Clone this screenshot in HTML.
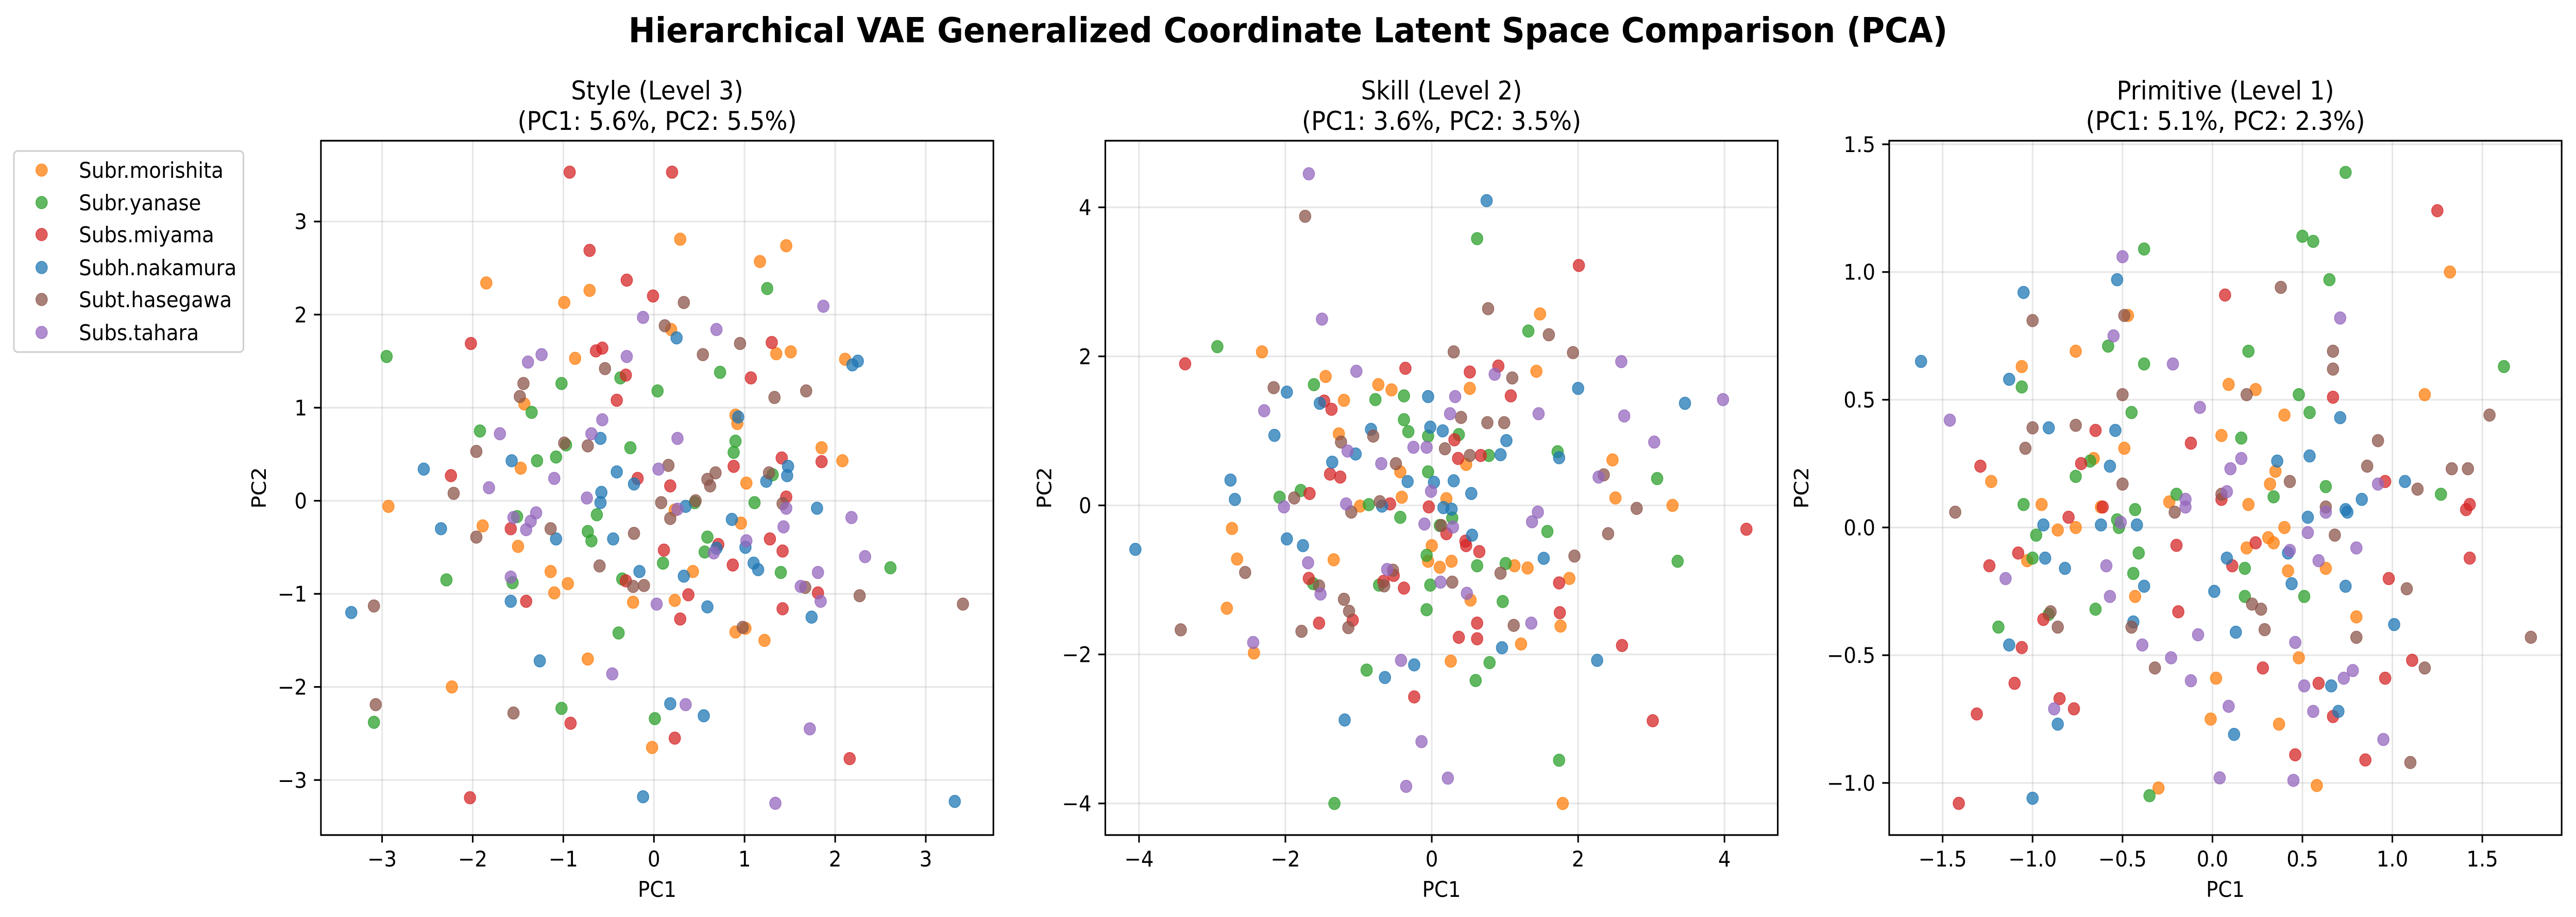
<!DOCTYPE html>
<html><head><meta charset="utf-8">
<style>
html,body{margin:0;padding:0;background:#fff;overflow:hidden;width:100%;height:100%;}
svg{display:block;font-family:"DejaVu Sans","Liberation Sans",sans-serif;position:absolute;left:0;top:0;width:100vw;height:100vh;white-space:nowrap;}
</style></head>
<body>
<svg id="chart" viewBox="0 0 5386 1779" preserveAspectRatio="none" xmlns="http://www.w3.org/2000/svg">
<rect width="5386" height="1779" fill="#fff"/>
<text x="2693" y="82" text-anchor="middle" font-size="67" font-weight="bold">Hierarchical VAE Generalized Coordinate Latent Space Comparison (PCA)</text>
<g id="legend"></g>
</svg>
<script>
const classNames = ["Subr.morishita","Subr.yanase","Subs.miyama","Subh.nakamura","Subt.hasegawa","Subs.tahara"];
const classColors = ["#ff7f0e","#2ca02c","#d62728","#1f77b4","#8c564b","#9467bd"];
const panelTitles = ["Style (Level 3)","Skill (Level 2)","Primitive (Level 1)"];
const panelSubtitles = ["(PC1: 5.6%, PC2: 5.5%)","(PC1: 3.6%, PC2: 3.5%)","(PC1: 5.1%, PC2: 2.3%)"];
const xTicks = [[-3,-2,-1,0,1,2,3],[-4,-2,0,2,4],[-1.5,-1,-0.5,0,0.5,1,1.5]];
const yTicks = [[-3,-2,-1,0,1,2,3],[-4,-2,0,2,4],[-1,-0.5,0,0.5,1,1.5]];
const xTickLabels = [["−3","−2","−1","0","1","2","3"],["−4","−2","0","2","4"],["−1.5","−1.0","−0.5","0.0","0.5","1.0","1.5"]];
const yTickLabels = [["−3","−2","−1","0","1","2","3"],["−4","−2","0","2","4"],["−1.0","−0.5","0.0","0.5","1.0","1.5"]];
const xLimits = [[-3.675,3.746],[-4.461,4.728],[-1.797,1.941]];
const yLimits = [[-3.591,3.868],[-4.424,4.894],[-1.204,1.514]];

const styleMorishita=[[0.29,2.81],[1.46,2.74],[1.17,2.57],[-1.85,2.34],[-0.71,2.26],[-0.99,2.13],[0.19,1.84],[-0.87,1.53],[1.35,1.58],[1.51,1.60],[2.11,1.52],[-1.43,1.04],[0.90,0.92],[0.92,0.83],[1.85,0.57],[2.08,0.43],[-1.47,0.35],[1.02,0.19],[-2.93,-0.06],[-1.89,-0.27],[0.96,-0.24],[0.23,-0.10],[-1.50,-0.49],[0.43,-0.76],[-1.14,-0.76],[-0.95,-0.89],[-1.10,-0.99],[-0.23,-1.09],[0.23,-1.07],[0.90,-1.41],[1.01,-1.37],[1.22,-1.50],[-0.73,-1.70],[-2.23,-2.00],[-0.02,-2.65]];
const styleYanase=[[1.25,2.28],[-2.95,1.55],[0.73,1.38],[-0.37,1.32],[-1.02,1.26],[0.04,1.18],[-1.35,0.95],[-1.92,0.75],[-0.26,0.57],[0.90,0.64],[0.88,0.52],[-1.08,0.47],[-1.29,0.43],[-0.97,0.60],[1.11,-0.02],[0.45,-0.02],[-1.51,-0.17],[-0.63,-0.15],[-0.73,-0.33],[-0.69,-0.43],[0.59,-0.39],[0.56,-0.55],[0.10,-0.67],[1.31,0.28],[1.40,-0.77],[2.61,-0.72],[-2.29,-0.85],[-1.56,-0.88],[-0.35,-0.84],[-0.39,-1.42],[-1.02,-2.23],[0.01,-2.34],[-3.09,-2.38]];
const styleMiyama=[[-0.93,3.53],[0.20,3.53],[-0.71,2.69],[-0.30,2.37],[-0.01,2.20],[-2.02,1.69],[-0.57,1.64],[-0.64,1.61],[-0.31,1.35],[1.30,1.70],[1.07,1.32],[-0.41,1.08],[-2.24,0.27],[-0.18,0.24],[0.18,0.16],[0.88,0.37],[1.41,0.46],[1.85,0.42],[1.46,0.04],[-1.58,-0.30],[1.28,-0.41],[0.11,-0.53],[0.71,-0.47],[1.42,-0.54],[0.87,-0.69],[-0.31,-0.86],[0.38,-1.01],[1.81,-0.99],[-1.41,-1.08],[1.42,-1.16],[0.29,-1.27],[-0.92,-2.39],[0.23,-2.55],[2.16,-2.77],[-2.03,-3.19]];
const styleNakamura=[[0.25,1.75],[2.19,1.46],[2.25,1.50],[0.93,0.90],[-0.59,0.67],[-1.57,0.43],[-2.54,0.34],[-0.41,0.31],[1.48,0.37],[1.47,0.27],[1.24,0.21],[-0.22,0.18],[-0.58,0.09],[-0.59,-0.02],[0.35,-0.06],[1.80,-0.08],[0.86,-0.20],[-2.35,-0.30],[-1.08,-0.41],[-0.45,-0.41],[1.01,-0.50],[0.69,-0.51],[1.10,-0.67],[1.15,-0.74],[-0.16,-0.76],[0.33,-0.81],[-1.58,-1.08],[0.59,-1.14],[-3.34,-1.20],[1.74,-1.25],[-1.26,-1.72],[0.18,-2.18],[0.55,-2.31],[-0.12,-3.18],[3.32,-3.23]];
const styleHasegawa=[[0.33,2.13],[0.12,1.88],[0.95,1.69],[0.54,1.57],[-0.54,1.42],[-1.44,1.26],[-1.48,1.12],[1.33,1.11],[1.68,1.18],[-0.99,0.62],[-0.73,0.59],[-1.96,0.53],[0.16,0.38],[0.68,0.30],[0.59,0.23],[0.62,0.16],[1.27,0.30],[-2.21,0.08],[0.08,-0.02],[0.46,0.00],[1.42,-0.03],[0.18,-0.19],[-1.14,-0.30],[-0.22,-0.35],[-1.96,-0.39],[-0.60,-0.70],[-0.23,-0.92],[-0.11,-0.91],[1.67,-0.93],[2.27,-1.02],[3.41,-1.11],[-3.09,-1.13],[0.98,-1.36],[-3.07,-2.19],[-1.55,-2.28]];
const styleTahara=[[1.87,2.09],[-0.12,1.97],[0.69,1.84],[-1.24,1.57],[-1.39,1.49],[-0.30,1.55],[-0.57,0.87],[-1.70,0.72],[-0.69,0.72],[0.26,0.67],[0.05,0.34],[-1.10,0.24],[-1.82,0.14],[-0.74,0.03],[1.46,-0.08],[0.26,-0.09],[-1.30,-0.13],[-1.55,-0.18],[-1.36,-0.22],[2.18,-0.18],[1.43,-0.28],[-1.41,-0.31],[1.02,-0.43],[0.66,-0.56],[2.33,-0.60],[1.81,-0.77],[-1.58,-0.82],[1.62,-0.92],[1.84,-1.08],[0.03,-1.11],[-0.46,-1.86],[0.35,-2.19],[1.72,-2.45],[1.34,-3.25]];

const skillMorishita=[[1.48,2.57],[-2.32,2.06],[1.43,1.80],[-1.45,1.73],[-0.73,1.62],[-0.55,1.55],[0.52,1.57],[-1.20,1.41],[-1.27,0.96],[2.47,0.61],[-0.43,0.45],[0.47,0.55],[-0.41,0.11],[2.51,0.10],[-0.98,-0.01],[0.20,0.09],[3.29,0.00],[-2.73,-0.31],[0.00,-0.54],[-2.66,-0.72],[-1.34,-0.73],[-0.05,-0.75],[0.11,-0.83],[0.27,-0.75],[0.53,-1.27],[1.13,-0.81],[1.31,-0.84],[1.88,-0.98],[-2.80,-1.38],[1.76,-1.62],[1.22,-1.86],[-2.43,-1.98],[0.26,-2.09],[1.79,-4.00]];
const skillYanase=[[0.62,3.58],[1.32,2.34],[-2.93,2.13],[-1.61,1.62],[-0.77,1.42],[-0.38,1.47],[-0.38,1.15],[-0.32,0.99],[-0.05,0.93],[0.37,0.95],[1.72,0.72],[0.78,0.67],[-0.05,0.45],[3.08,0.36],[-1.79,0.20],[-2.08,0.11],[-0.86,0.01],[-0.43,-0.16],[0.28,-0.17],[0.11,-0.27],[1.58,-0.35],[-0.07,-0.67],[0.62,-0.81],[1.01,-0.78],[3.36,-0.75],[-1.62,-1.05],[-0.72,-1.07],[-0.02,-1.07],[0.97,-1.29],[-0.07,-1.40],[-0.89,-2.21],[0.79,-2.11],[0.60,-2.35],[1.74,-3.42],[-1.33,-4.00]];
const skillMiyama=[[2.01,3.22],[-3.37,1.90],[-0.36,1.84],[0.52,1.79],[0.91,1.87],[1.08,1.47],[-1.47,1.40],[-1.37,1.29],[0.31,0.88],[0.36,0.63],[0.67,0.67],[-1.39,0.42],[-1.25,0.38],[-1.67,0.16],[-0.57,0.02],[-0.04,-0.02],[0.20,-0.38],[0.46,-0.48],[0.47,-0.54],[0.65,-0.62],[4.30,-0.32],[-1.68,-0.98],[-0.52,-0.94],[-0.66,-1.02],[-0.38,-1.11],[1.74,-1.04],[1.75,-1.44],[-1.08,-1.54],[-1.54,-1.58],[0.62,-1.58],[0.37,-1.77],[0.62,-1.79],[2.60,-1.88],[-0.24,-2.57],[3.02,-2.89]];
const skillNakamura=[[0.75,4.09],[3.46,1.37],[2.00,1.57],[-1.98,1.52],[-1.53,1.37],[-0.05,1.46],[-2.15,0.94],[-0.83,1.02],[-0.02,1.05],[0.15,1.00],[1.02,0.87],[0.94,0.68],[1.74,0.64],[-1.04,0.69],[-1.36,0.58],[-2.75,0.34],[-2.69,0.08],[-0.33,0.32],[0.03,0.31],[0.30,0.33],[0.54,0.16],[-0.68,-0.01],[0.16,-0.03],[0.27,-0.05],[-4.05,-0.59],[-1.98,-0.45],[-1.76,-0.54],[0.55,-0.40],[1.53,-0.71],[0.96,-1.91],[2.26,-2.08],[-0.24,-2.14],[-0.64,-2.31],[-1.19,-2.88]];
const skillHasegawa=[[-1.73,3.88],[0.77,2.64],[1.60,2.29],[0.30,2.06],[1.93,2.05],[-2.16,1.58],[1.10,1.71],[0.40,1.18],[0.76,1.11],[0.99,1.11],[-0.80,0.93],[-1.24,0.85],[0.18,0.76],[0.52,0.67],[-0.49,0.56],[2.35,0.41],[-1.88,0.10],[-0.71,0.05],[2.80,-0.04],[-1.10,-0.09],[0.13,-0.27],[2.41,-0.38],[1.95,-0.68],[-2.55,-0.90],[-0.53,-0.87],[-0.65,-1.08],[-1.54,-1.08],[0.28,-1.03],[0.94,-0.91],[-1.20,-1.26],[-1.13,-1.42],[-1.14,-1.64],[1.12,-1.61],[-3.43,-1.67],[-1.78,-1.69]];
const skillTahara=[[-1.68,4.45],[-1.50,2.50],[2.59,1.93],[-1.03,1.80],[0.86,1.76],[0.32,1.46],[3.98,1.42],[-2.29,1.27],[0.25,1.23],[1.46,1.23],[2.63,1.20],[3.04,0.85],[-1.15,0.73],[-0.25,0.78],[-0.07,0.78],[-0.69,0.56],[2.28,0.38],[-0.01,0.19],[-1.17,0.02],[-2.02,-0.02],[1.45,-0.09],[1.37,-0.22],[-0.10,-0.25],[0.29,-0.29],[-1.69,-0.77],[-0.61,-0.86],[0.12,-1.03],[-1.52,-1.19],[0.48,-1.18],[1.36,-1.58],[-2.44,-1.84],[-0.42,-2.08],[-0.14,-3.17],[0.22,-3.66],[-0.35,-3.77]];

const primMorishita=[[1.32,1.00],[-0.47,0.83],[-0.76,0.69],[-1.06,0.63],[0.09,0.56],[0.24,0.54],[1.18,0.52],[0.40,0.44],[-0.49,0.31],[0.05,0.36],[-1.23,0.18],[-0.66,0.27],[0.35,0.22],[0.32,0.17],[-0.24,0.10],[0.20,0.09],[-0.95,0.09],[-0.62,0.08],[-0.76,0.00],[-0.86,-0.01],[0.40,0.00],[0.31,-0.04],[0.34,-0.06],[0.19,-0.08],[-1.03,-0.13],[0.42,-0.17],[0.63,-0.16],[-0.43,-0.27],[0.80,-0.35],[0.48,-0.51],[0.02,-0.59],[-0.01,-0.75],[0.37,-0.77],[-0.30,-1.02],[0.58,-1.01]];
const primYanase=[[0.74,1.39],[0.50,1.14],[0.56,1.12],[-0.38,1.09],[0.65,0.97],[-0.58,0.71],[0.20,0.69],[-0.38,0.64],[1.62,0.63],[-1.06,0.55],[0.48,0.52],[0.54,0.45],[-0.45,0.45],[0.16,0.35],[-0.68,0.26],[-0.76,0.20],[0.63,0.16],[1.27,0.13],[-0.20,0.13],[0.34,0.12],[-1.05,0.09],[-0.43,0.07],[-0.53,0.03],[-0.52,0.00],[-0.98,-0.03],[-0.41,-0.10],[-1.00,-0.12],[0.18,-0.16],[-0.44,-0.18],[0.18,-0.27],[0.51,-0.27],[-0.65,-0.32],[-0.91,-0.34],[-1.19,-0.39],[-0.35,-1.05]];
const primMiyama=[[1.25,1.24],[0.07,0.91],[0.67,0.51],[-0.12,0.33],[-0.65,0.38],[-0.73,0.25],[-1.29,0.24],[0.96,0.18],[-0.61,0.08],[0.05,0.11],[1.43,0.09],[1.41,0.07],[-0.80,0.04],[-0.20,-0.07],[0.24,-0.06],[-1.08,-0.10],[0.11,-0.15],[-1.24,-0.15],[1.43,-0.12],[0.98,-0.20],[-0.19,-0.33],[-0.94,-0.36],[-1.06,-0.47],[1.11,-0.52],[0.28,-0.55],[0.96,-0.59],[0.59,-0.61],[-1.10,-0.61],[-0.85,-0.67],[-0.77,-0.71],[-1.31,-0.73],[0.67,-0.74],[0.46,-0.89],[0.85,-0.91],[-1.41,-1.08]];
const primNakamura=[[-1.62,0.65],[-0.53,0.97],[-1.05,0.92],[-1.13,0.58],[-0.91,0.39],[-0.54,0.38],[0.71,0.43],[-0.57,0.24],[0.36,0.26],[0.54,0.28],[1.07,0.18],[0.83,0.11],[0.74,0.07],[0.75,0.06],[0.53,0.04],[-0.94,0.01],[-0.62,0.01],[-0.42,0.01],[-0.93,-0.12],[0.08,-0.12],[0.42,-0.10],[-0.82,-0.16],[0.44,-0.22],[-0.38,-0.23],[0.74,-0.23],[0.01,-0.25],[1.01,-0.38],[-0.44,-0.37],[0.13,-0.41],[-1.13,-0.46],[0.66,-0.62],[0.70,-0.72],[-0.86,-0.77],[0.12,-0.81],[-1.00,-1.06]];
const primHasegawa=[[0.38,0.94],[-1.00,0.81],[-0.49,0.83],[0.67,0.69],[0.67,0.62],[-0.50,0.52],[0.19,0.52],[1.54,0.44],[-0.76,0.40],[-1.00,0.39],[-1.04,0.31],[0.92,0.34],[0.86,0.24],[1.33,0.23],[1.42,0.23],[0.43,0.18],[-0.50,0.17],[1.14,0.15],[0.05,0.13],[0.63,0.08],[-0.21,0.06],[-1.43,0.06],[0.68,-0.03],[1.08,-0.24],[0.22,-0.30],[0.27,-0.32],[-0.90,-0.33],[-0.45,-0.39],[-0.86,-0.39],[0.29,-0.40],[0.80,-0.43],[1.77,-0.43],[-0.32,-0.55],[1.18,-0.55],[1.10,-0.92]];
const primTahara=[[-0.50,1.06],[0.71,0.82],[-0.55,0.75],[-0.22,0.64],[-0.07,0.47],[-1.46,0.42],[0.16,0.27],[0.10,0.23],[0.92,0.17],[0.08,0.14],[-0.15,0.11],[-0.15,0.08],[0.63,0.06],[-0.51,0.02],[0.53,-0.02],[0.80,-0.08],[0.43,-0.09],[0.59,-0.13],[-0.59,-0.15],[-1.15,-0.20],[-0.57,-0.27],[-0.08,-0.42],[-0.39,-0.46],[0.46,-0.45],[-0.23,-0.51],[0.78,-0.56],[0.73,-0.59],[-0.12,-0.60],[0.51,-0.62],[0.09,-0.70],[-0.88,-0.71],[0.56,-0.72],[0.95,-0.83],[0.04,-0.98],[0.45,-0.99]];

const panelData = [
  [styleMorishita,styleYanase,styleMiyama,styleNakamura,styleHasegawa,styleTahara],
  [skillMorishita,skillYanase,skillMiyama,skillNakamura,skillHasegawa,skillTahara],
  [primMorishita,primYanase,primMiyama,primNakamura,primHasegawa,primTahara]
];

const NS = "http://www.w3.org/2000/svg";
const svg = document.getElementById("chart");
function mk(tag, attrs, parent){
  const e = document.createElementNS(NS, tag);
  for (const k in attrs) e.setAttribute(k, attrs[k]);
  parent.appendChild(e);
  return e;
}
const panelLeft = [671, 2311, 3950];
const AW = 1406, AT = 273, AH = 1347;
const panelKeys = ["style","skill","primitive"];

for (let p = 0; p < 3; p++) {
  const L = panelLeft[p];
  const [x0,x1] = xLimits[p], [y0,y1] = yLimits[p];
  const sx = v => L + (v - x0) / (x1 - x0) * AW;
  const sy = v => AT + AH - (v - y0) / (y1 - y0) * AH;
  const g = mk("g", {}, svg);
  
  

  xTicks[p].forEach(t => {
    const l = mk("line", {x1:sx(t), x2:sx(t), y1:AT, y2:AT+AH, stroke:"#b0b0b0", "stroke-opacity":0.3, "stroke-width":3.3}, g);
    
    
  });
  yTicks[p].forEach(t => {
    const l = mk("line", {x1:L, x2:L+AW, y1:sy(t), y2:sy(t), stroke:"#b0b0b0", "stroke-opacity":0.3, "stroke-width":3.3}, g);
    
    
  });

  panelData[p].forEach((pts, ci) => {
    const sg = mk("g", {fill: classColors[ci], "fill-opacity": 0.75, stroke: classColors[ci], "stroke-opacity":0.75, "stroke-width":1.5}, g);
    
    
    pts.forEach(pt => {
      const c = mk("circle", {cx: sx(pt[0]), cy: sy(pt[1]), r: 12}, sg);
      
      
    });
  });

  const fr = mk("rect", {x:L, y:AT, width:AW, height:AH, fill:"none", stroke:"#000", "stroke-width":3.3}, g);
  
  

  xTicks[p].forEach((t, i) => {
    const tk = mk("line", {x1:sx(t), x2:sx(t), y1:AT+AH, y2:AT+AH+14.6, stroke:"#000", "stroke-width":3.3}, g);
    
    
    const tx = mk("text", {x:sx(t), y:AT+AH+61, "text-anchor":"middle", "font-size":41.7}, g);
    tx.textContent = xTickLabels[p][i];
    
    
  });
  yTicks[p].forEach((t, i) => {
    const tk = mk("line", {x1:L-14.6, x2:L, y1:sy(t), y2:sy(t), stroke:"#000", "stroke-width":3.3}, g);
    
    
    const tx = mk("text", {x:L-29, y:sy(t)+15, "text-anchor":"end", "font-size":41.7}, g);
    tx.textContent = yTickLabels[p][i];
    
    
  });

  const xl = mk("text", {x:L+AW/2, y:1740, "text-anchor":"middle", "font-size":41.7}, g);
  xl.textContent = "PC1";
  
  
  const ylx = [556, 2198, 3781][p];
  const yl = mk("text", {x:ylx, y:AT+AH/2, "text-anchor":"middle", "font-size":41.7, transform:`rotate(-90 ${ylx} ${AT+AH/2})`}, g);
  yl.textContent = "PC2";
  
  

  const t1 = mk("text", {x:L+AW/2, y:193, "text-anchor":"middle", "font-size":50}, g);
  t1.textContent = panelTitles[p];
  
  
  const t2 = mk("text", {x:L+AW/2, y:252, "text-anchor":"middle", "font-size":50}, g);
  t2.textContent = panelSubtitles[p];
  
  
}

const lg = document.getElementById("legend");
const box = mk("rect", {x:29, y:293, width:480, height:390, rx:8, fill:"#fff", "fill-opacity":0.8, stroke:"#d0d0d0", "stroke-width":3.3}, lg);


const rowY = [330, 393, 455, 519, 581, 645];
classNames.forEach((n, i) => {
  const eg = mk("g", {}, lg);
  
  
  mk("circle", {cx:87, cy:rowY[i], r:12, fill:classColors[i], "fill-opacity":0.75, stroke:classColors[i], "stroke-opacity":0.75, "stroke-width":1.5}, eg);
  const t = mk("text", {x:165, y:rowY[i]+15, "font-size":41.7}, eg);
  t.textContent = n;
});
</script>
</body></html>
